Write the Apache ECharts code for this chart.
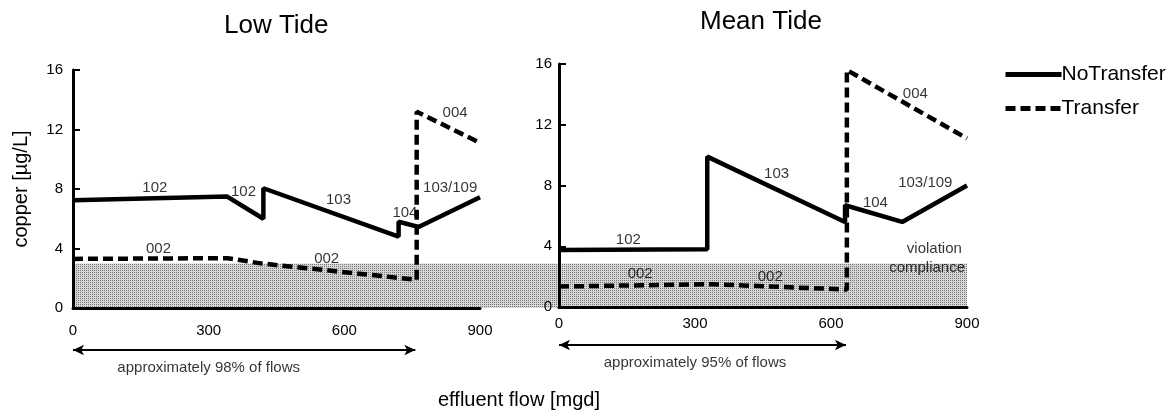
<!DOCTYPE html>
<html>
<head>
<meta charset="utf-8">
<script src="https://cdn.jsdelivr.net/npm/echarts@6/dist/echarts.min.js"></script>
<style>
  html, body { margin: 0; padding: 0; background: #fff; }
  #chart { width: 1170px; height: 420px; }
</style>
</head>
<body>
<div id="chart"></div>
<script>
// flow axis (mgd) and copper axis (ug/L)
const flowTicks = [0, 300, 600, 900];
const copperTicks = [0, 4, 8, 12, 16];

// Low Tide panel
const lowNoTransfer = [[0, 7.25], [340, 7.5], [421, 6.0], [421, 8.05], [720, 4.8], [720, 5.8], [764, 5.45], [900, 7.45]];
const lowTransfer = [[0, 3.3], [342, 3.35], [415, 3.0], [760, 1.9], [760, 13.2], [900, 11.1]];

// Mean Tide panel
const meanNoTransfer = [[0, 3.75], [327, 3.8], [327, 9.9], [631, 5.6], [631, 6.7], [757, 5.6], [900, 8.0]];
const meanTransfer = [[0, 1.35], [340, 1.5], [635, 1.15], [635, 15.6], [900, 11.1]];

// compliance limit (shaded band)
const complianceLimit = 3.0;

// outfall labels [text, flow, copper]
const lowLabels = [['102', 181, 8.1], ['102', 377, 7.8], ['103', 587, 7.3], ['104', 734, 6.4],
  ['103/109', 834, 8.1], ['004', 845, 13.1], ['002', 189, 4.0], ['002', 561, 3.3]];
const meanLabels = [['102', 153, 4.45], ['103', 480, 8.75], ['104', 698, 6.85], ['103/109', 808, 8.15],
  ['004', 786, 14.05], ['002', 179, 2.2], ['002', 466, 2.0], ['violation', 828, 3.8], ['compliance', 812, 2.55]];

// share of flows ranges
const lowRange = [0, 757];
const meanRange = [0, 633];
const lowRangeText = 'approximately 98% of flows';
const meanRangeText = 'approximately 95% of flows';

const font = 'Liberation Sans, Arial, Helvetica, sans-serif';

const chart = echarts.init(document.getElementById('chart'));

const xAxisBase = (gridIndex, labelMargin) => ({
  type: 'value', gridIndex: gridIndex, z: 3, min: flowTicks[0], max: flowTicks[flowTicks.length - 1],
  interval: flowTicks[1] - flowTicks[0],
  axisLine: { lineStyle: { color: '#000', width: 3 } },
  axisTick: { show: false },
  splitLine: { show: false },
  axisLabel: { color: '#000', fontSize: 15, fontFamily: font, margin: labelMargin }
});

const yAxisBase = (gridIndex, labelMargin) => ({
  type: 'value', gridIndex: gridIndex, z: 3, min: copperTicks[0], max: copperTicks[copperTicks.length - 1],
  interval: copperTicks[1] - copperTicks[0],
  axisLine: { show: true, lineStyle: { color: '#000', width: 3 } },
  axisTick: { show: true, inside: true, length: 7, lineStyle: { color: '#000', width: 2 } },
  splitLine: { show: false },
  axisLabel: { color: '#000', fontSize: 15, fontFamily: font, margin: labelMargin }
});

const hiddenAxis = (gridIndex, min, max) => ({
  type: 'value', gridIndex: gridIndex, min: min, max: max, show: false
});

const lineSeries = (name, data, idx, dashed) => ({
  name: name, type: 'line', xAxisIndex: idx, yAxisIndex: idx, data: data,
  symbol: 'none', z: 4,
  lineStyle: { color: '#000', width: 4.5, type: dashed ? [10, 5] : 'solid' },
  itemStyle: { color: '#000' }
});

const labelSeries = (labels, idx) => ({
  type: 'scatter', xAxisIndex: idx, yAxisIndex: idx, symbolSize: 0, z: 5, silent: true,
  data: labels.map(l => ({ name: l[0], value: [l[1], l[2]] })),
  label: { show: true, position: 'inside', formatter: p => p.name, color: '#000', fontSize: 15, fontFamily: font }
});

const rangeSeries = (range, text, idx) => ({
  type: 'scatter', xAxisIndex: idx, yAxisIndex: idx, symbolSize: 0, silent: true,
  data: [{ name: text, value: [300, 0.3] }],
  label: { show: true, position: 'inside', formatter: p => p.name, color: '#000', fontSize: 15, fontFamily: font },
  markLine: {
    silent: true, symbol: ['arrow', 'arrow'], symbolSize: [8, 11],
    lineStyle: { color: '#000', width: 2, type: 'solid' },
    label: { show: false },
    data: [[{ coord: [range[0], 0.75] }, { coord: [range[1], 0.75] }]]
  }
});

chart.setOption({
  animation: false,
  backgroundColor: '#fff',
  title: [
    { text: 'Low Tide', left: 219, top: 8, textStyle: { fontSize: 26, fontWeight: 'normal', color: '#000', fontFamily: font } },
    { text: 'Mean Tide', left: 695, top: 4, textStyle: { fontSize: 26, fontWeight: 'normal', color: '#000', fontFamily: font } },
    { text: 'effluent flow [mgd]', left: 433, top: 385, textStyle: { fontSize: 20, fontWeight: 'normal', color: '#000', fontFamily: font } }
  ],
  legend: {
    orient: 'vertical', left: 998, top: 59, itemGap: 13, itemWidth: 56, itemHeight: 14,
    data: ['NoTransfer', 'Transfer'],
    itemStyle: { opacity: 0 },
    lineStyle: { width: 5 },
    textStyle: { fontSize: 21, color: '#000', fontFamily: font, padding: [0, 0, 0, -5] }
  },
  grid: [
    { left: 73, top: 70, width: 407, height: 238 },
    { left: 559, top: 64, width: 408, height: 243 },
    { left: 73, top: 70, width: 894, height: 238 },
    { left: 73, top: 340, width: 407, height: 40 },
    { left: 559, top: 335, width: 408, height: 40 }
  ],
  xAxis: [
    xAxisBase(0, 15),
    xAxisBase(1, 9),
    { type: 'category', gridIndex: 2, data: ['band'], show: false },
    hiddenAxis(3, 0, 900),
    hiddenAxis(4, 0, 900)
  ],
  yAxis: [
    Object.assign(yAxisBase(0, 10), {
      name: 'copper [µg/L]', nameLocation: 'middle', nameGap: 42, nameRotate: 90,
      nameTextStyle: { fontSize: 20, color: '#000', fontFamily: font }
    }),
    yAxisBase(1, 7),
    hiddenAxis(2, 0, 16),
    hiddenAxis(3, 0, 1),
    hiddenAxis(4, 0, 1)
  ],
  series: [
    {
      type: 'bar', xAxisIndex: 2, yAxisIndex: 2, data: [complianceLimit], barWidth: '100%',
      silent: true, z: 1,
      itemStyle: {
        color: '#d6d6d6',
        decal: { symbol: 'rect', symbolSize: 1, dashArrayX: [1, 1], dashArrayY: [1, 1], color: '#777', rotation: 0 }
      }
    },
    lineSeries('NoTransfer', lowNoTransfer, 0, false),
    lineSeries('Transfer', lowTransfer, 0, true),
    lineSeries('NoTransfer', meanNoTransfer, 1, false),
    lineSeries('Transfer', meanTransfer, 1, true),
    labelSeries(lowLabels, 0),
    labelSeries(meanLabels, 1),
    rangeSeries(lowRange, lowRangeText, 3),
    rangeSeries(meanRange, meanRangeText, 4)
  ]
});
</script>
</body>
</html>
